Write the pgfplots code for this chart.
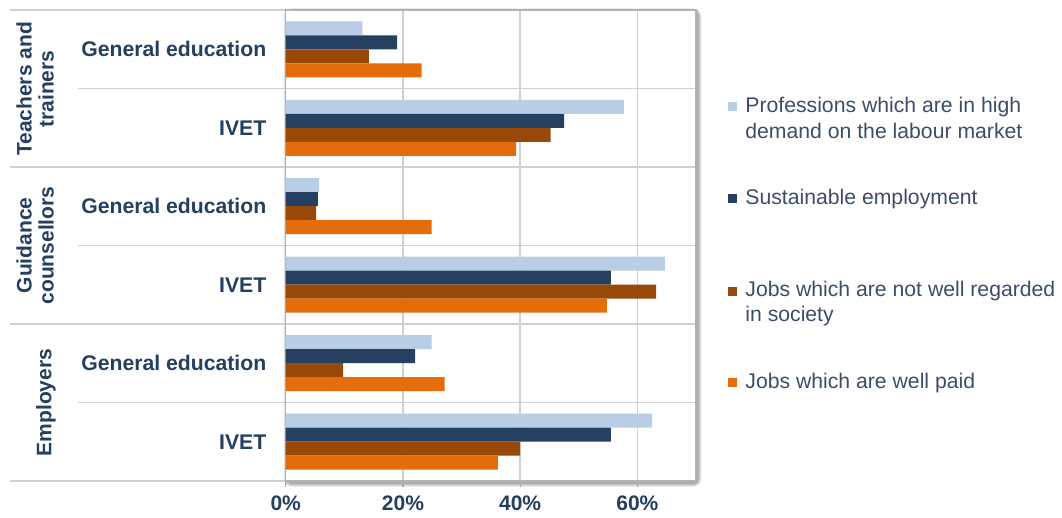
\documentclass[border=0pt]{standalone}
\usepackage{pgfplots}
\pgfplotsset{compat=1.18}
\usepackage{fontspec}
\setmainfont{Liberation Sans}
\definecolor{lblue}{HTML}{B9CDE5}
\definecolor{navy}{HTML}{254061}
\definecolor{brown}{HTML}{984807}
\definecolor{orng}{HTML}{E46C0A}
\definecolor{txt}{HTML}{243F60}
\definecolor{legtxt}{HTML}{3B4D6B}
\definecolor{gridc}{HTML}{D0D0D0}
\begin{document}
\begin{tikzpicture}
\begin{scope}[x=0.5pt,y=-0.5pt,yshift=258.5pt]
\useasboundingbox (0,0) rectangle (1062,517);
% soft shadow
\foreach \w in {1,2,3,4,5,6,7,8}{
  \draw[black,opacity=0.05,line width=\w*0.5pt,rounded corners=2pt] (287.5,12) rectangle (697.5,483);
}
\fill[white] (285.7,10) rectangle (696,481);
% horizontal boundary lines, including extension into label area
\foreach \yy in {10,167,324,481}{\draw[gridc,line width=0.8pt] (10,\yy) -- (696,\yy);}
\foreach \yy in {88.5,245.5,402.5}{\draw[gridc,line width=0.8pt] (78,\yy) -- (696,\yy);}
% group labels
\begin{scope}[every node/.style={text=txt,font=\fontsize{10.5}{12}\selectfont\bfseries,rotate=90,inner sep=0pt}]
\node at (24,89) {Teachers and};
\node at (46,89) {trainers};
\node at (24,245.5) {Guidance};
\node at (46,245.5) {counsellors};
\node at (46,402.5) {Employers};
\end{scope}
% legend
\begin{scope}[every node/.style={text=legtxt,font=\fontsize{10.6}{12}\selectfont,anchor=west,inner sep=0pt}]
\fill[lblue] (728,102.5) rectangle (737,111.5);
\node at (745,107) {Professions which are in high};
\node at (745,131) {demand on the labour market};
\fill[navy] (728,194.5) rectangle (737,203.5);
\node at (745,199) {Sustainable employment};
\fill[brown] (728,287) rectangle (737,296);
\node at (745,291.5) {Jobs which are not well regarded};
\node at (745,316) {in society};
\fill[orng] (728,378.5) rectangle (737,387.5);
\node at (745,383) {Jobs which are well paid};
\end{scope}
\end{scope}
\begin{axis}[
  at={(142.85pt,18pt)}, anchor=south west,
  scale only axis, width=205.15pt, height=235.5pt,
  xbar, bar width=7pt,
  xmin=0, xmax=70, ymin=-0.5, ymax=5.5,
  xtick={0,20,40,60},
  xticklabel={\pgfmathprintnumber{\tick}\%},
  /pgf/number format/assume math mode=true,
  xticklabel style={font=\fontsize{10.5}{12}\selectfont\bfseries, text=txt, yshift=-1pt},
  xtick pos=bottom, tick align=outside,
  major tick length=3pt,
  xtick style={draw=gray!70, line width=0.6pt},
  xmajorgrids, major grid style={gridc,line width=0.8pt},
  ytick={0,1,2,3,4,5},
  yticklabels={IVET,General education,IVET,General education,IVET,General education},
  ytick style={draw=none},
  yticklabel style={font=\fontsize{10.6}{12}\selectfont\bfseries, text=txt, anchor=east, inner sep=0pt, xshift=-6.5pt},
  axis line style={draw=gray!60, line width=0.8pt},
  clip=false,
]
\addplot[fill=lblue, draw=none, bar shift=10.5pt] coordinates {(62.5,0) (24.9,1) (64.7,2) (5.7,3) (57.7,4) (13.1,5)};
\addplot[fill=navy, draw=none, bar shift=3.5pt] coordinates {(55.5,0) (22.1,1) (55.5,2) (5.5,3) (47.5,4) (19.0,5)};
\addplot[fill=brown, draw=none, bar shift=-3.5pt] coordinates {(40.0,0) (9.8,1) (63.2,2) (5.2,3) (45.2,4) (14.2,5)};
\addplot[fill=orng, draw=none, bar shift=-10.5pt] coordinates {(36.2,0) (27.1,1) (54.8,2) (24.9,3) (39.3,4) (23.2,5)};
\end{axis}
\end{tikzpicture}
\end{document}
